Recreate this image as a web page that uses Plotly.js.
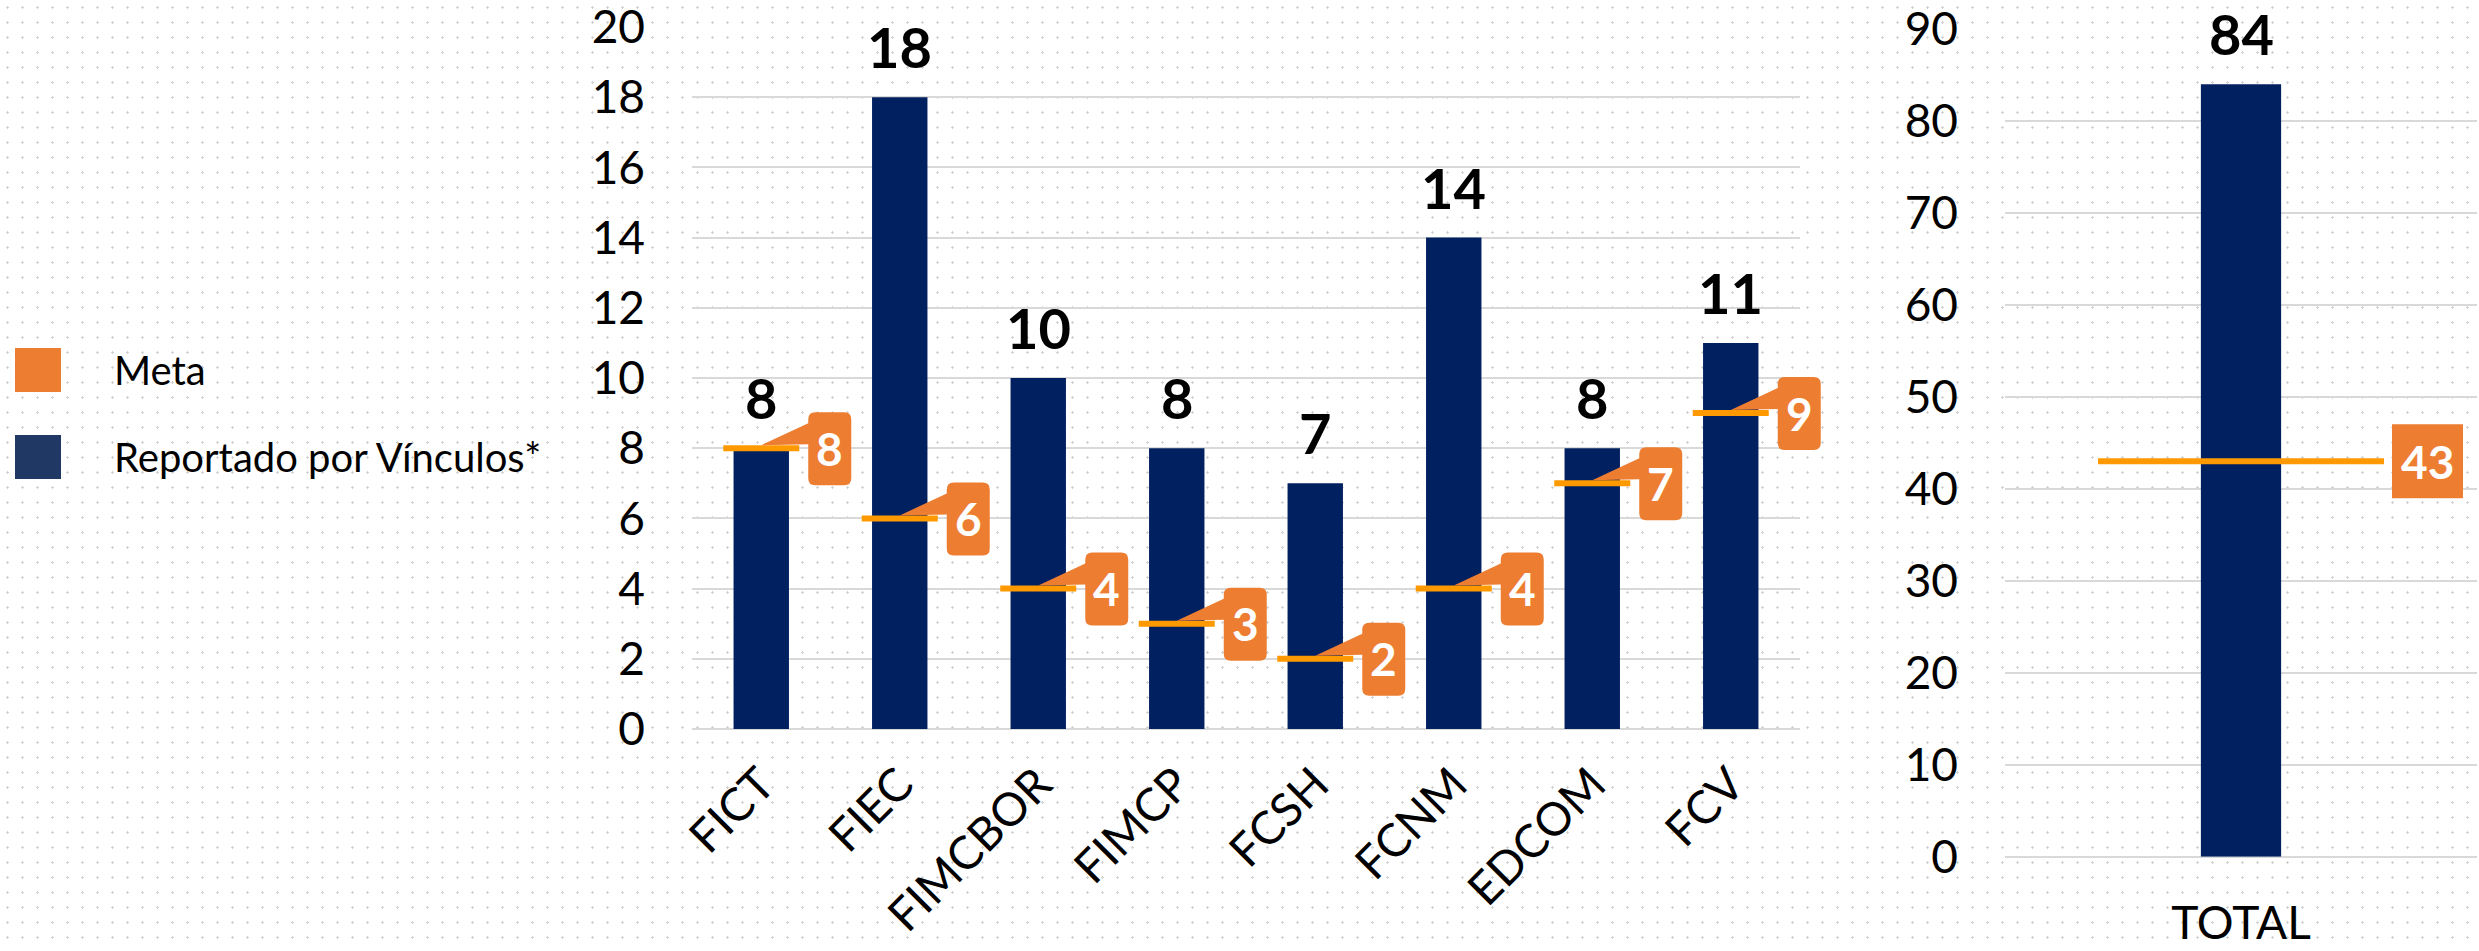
<!DOCTYPE html>
<html>
<head>
<meta charset="utf-8">
<script src="https://cdn.plot.ly/plotly-3.0.1.min.js"></script>
<style>
  html, body { margin: 0; padding: 0; }
  body {
    width: 2479px; height: 951px; overflow: hidden;
    background-color: #ffffff;
    background-image: radial-gradient(circle, #d2d2d2 1px, rgba(255,255,255,0) 1.4px);
    background-size: 15px 15px;
  }
  #chart { width: 2479px; height: 951px; }
</style>
</head>
<body>
<div id="chart"></div>
<script>
// ---------------- data ----------------
const categories = ['FICT', 'FIEC', 'FIMCBOR', 'FIMCP', 'FCSH', 'FCNM', 'EDCOM', 'FCV'];
const reportado = [8, 18, 10, 8, 7, 14, 8, 11];
const meta = [8, 6, 4, 3, 2, 4, 7, 9];
const totalCategories = ['TOTAL'];
const totalReportado = [84];
const totalMeta = [43];
const seriesNames = ['Meta', 'Reportado por Vínculos*'];
const leftTicks = [0, 2, 4, 6, 8, 10, 12, 14, 16, 18, 20];
const rightTicks = [0, 10, 20, 30, 40, 50, 60, 70, 80, 90];

// ---------------- style ----------------
const W = 2479, H = 951;
const px = v => v / W;
const py = v => 1 - v / H;
const FONT = 'Lato, "Open Sans", sans-serif';
const NAVY = '#002060';
const META_LINE = '#FF9900';
const BOX = '#ED7D31';
const GRID = '#D9D9D9';
const LINE_EW = 1.4; // plotly draws line-ew with half-length 0.7*size

// plot geometry (pixels)
const L_X0 = 692, L_X1 = 1800, L_EXTRA = 32;
const catPx = (L_X1 - L_X0) / categories.length;
const R_X0 = 2005, R_X1 = 2477;

const traces = [
  {
    type: 'bar', x: categories, y: reportado, xaxis: 'x', yaxis: 'y',
    width: 0.4, marker: { color: NAVY }, name: seriesNames[1],
    showlegend: false, hoverinfo: 'skip'
  },
  {
    type: 'scatter', mode: 'markers', x: categories, y: meta, xaxis: 'x', yaxis: 'y',
    marker: { symbol: 'line-ew', size: 76 / LINE_EW, line: { width: 6, color: META_LINE } },
    name: seriesNames[0], showlegend: false, hoverinfo: 'skip', cliponaxis: false
  },
  // invisible carrier on a wider overlay subplot, so callouts are not clipped
  {
    type: 'scatter', mode: 'markers', x: categories, y: meta, xaxis: 'x3', yaxis: 'y3',
    marker: { opacity: 0 }, showlegend: false, hoverinfo: 'skip'
  },
  {
    type: 'bar', x: totalCategories, y: totalReportado, xaxis: 'x2', yaxis: 'y2',
    width: 0.17, marker: { color: NAVY }, name: seriesNames[1],
    showlegend: false, hoverinfo: 'skip'
  },
  {
    type: 'scatter', mode: 'markers', x: totalCategories, y: totalMeta, xaxis: 'x2', yaxis: 'y2',
    marker: { opacity: 0 },
    name: seriesNames[0], showlegend: false, hoverinfo: 'skip'
  }
];

const annotations = [];
const shapes = [];

// callout path (pixels relative to the meta point, y up)
const calloutPath = 'M0,3 L47,25 L47,29 Q47,36 54,36 L83,36 Q90,36 90,29 L90,-30 Q90,-37 83,-37 L54,-37 Q47,-37 47,-30 L47,4 Z';

categories.forEach((c, i) => {
  annotations.push({
    x: c, y: reportado[i], xref: 'x', yref: 'y', text: '<b>' + reportado[i] + '</b>',
    showarrow: false, yanchor: 'bottom', xanchor: 'center', yshift: 15,
    font: { family: FONT, size: 56, color: '#000000' }
  });
  shapes.push({
    type: 'path', xref: 'x3', yref: 'y3', xsizemode: 'pixel', ysizemode: 'pixel',
    xanchor: c, yanchor: meta[i], path: calloutPath,
    fillcolor: BOX, line: { width: 0 }, layer: 'above'
  });
  annotations.push({
    x: c, y: meta[i], xref: 'x', yref: 'y', text: '<b>' + meta[i] + '</b>',
    showarrow: false, xanchor: 'center', yanchor: 'middle', xshift: 68.5, yshift: 0,
    font: { family: FONT, size: 46, color: '#ffffff' }
  });
});

totalCategories.forEach((c, i) => {
  annotations.push({
    x: c, y: totalReportado[i], xref: 'x2', yref: 'y2', text: '<b>' + totalReportado[i] + '</b>',
    showarrow: false, yanchor: 'bottom', xanchor: 'center', yshift: 15,
    font: { family: FONT, size: 56, color: '#000000' }
  });
  // meta level line, anchored at the meta value
  shapes.push({
    type: 'line', xref: 'x2', yref: 'y2', xsizemode: 'pixel', ysizemode: 'pixel',
    xanchor: c, yanchor: totalMeta[i], x0: -143, x1: 143, y0: 0, y1: 0,
    line: { width: 6, color: META_LINE }, layer: 'above'
  });
  shapes.push({
    type: 'path', xref: 'x2', yref: 'y2', xsizemode: 'pixel', ysizemode: 'pixel',
    xanchor: c, yanchor: totalMeta[i], path: 'M151,37 L222,37 L222,-37 L151,-37 Z',
    fillcolor: BOX, line: { width: 0 }, layer: 'above'
  });
  annotations.push({
    x: c, y: totalMeta[i], xref: 'x2', yref: 'y2', text: '<b>' + totalMeta[i] + '</b>',
    showarrow: false, xanchor: 'center', yanchor: 'middle', xshift: 186.5,
    font: { family: FONT, size: 46, color: '#ffffff' }
  });
});

// legend (drawn manually to get the large swatches)
const legendColors = ['#ED7D31', '#203864'];
const legendTops = [348, 435];
seriesNames.forEach((n, i) => {
  shapes.push({
    type: 'rect', xref: 'paper', yref: 'paper',
    x0: px(15), x1: px(61), y0: py(legendTops[i] + 44), y1: py(legendTops[i]),
    fillcolor: legendColors[i], line: { width: 0 }
  });
  annotations.push({
    x: px(112), y: py(legendTops[i] + 22), xref: 'paper', yref: 'paper',
    text: n, showarrow: false, xanchor: 'left', yanchor: 'middle',
    font: { family: FONT, size: 40, color: '#000000' }
  });
});

const yCommon = {
  showgrid: true, gridcolor: GRID, gridwidth: 2,
  zeroline: true, zerolinecolor: GRID, zerolinewidth: 2,
  showline: false, ticks: '', fixedrange: true,
  ticklabeloverflow: 'allow',
  tickfont: { family: FONT, size: 46, color: '#000000' }
};

const layout = {
  width: W, height: H,
  margin: { l: 0, r: 0, t: 0, b: 0, pad: 0 },
  paper_bgcolor: 'rgba(0,0,0,0)', plot_bgcolor: 'rgba(0,0,0,0)',
  showlegend: false,
  font: { family: FONT, color: '#000000' },
  xaxis: {
    domain: [px(L_X0), px(L_X1)], anchor: 'y', type: 'category',
    range: [-0.5, categories.length - 0.5], autorange: false,
    tickangle: -45, ticks: '', showline: false, showgrid: false, zeroline: false,
    ticklabelstandoff: 18, ticklabeloverflow: 'allow',
    tickfont: { family: FONT, size: 46, color: '#000000' }
  },
  yaxis: Object.assign({}, yCommon, {
    domain: [py(729), py(27)], anchor: 'x', range: [0, 20], autorange: false,
    tickmode: 'array', tickvals: leftTicks, ticklabelstandoff: 46
  }),
  xaxis3: {
    domain: [px(L_X0), px(L_X1 + L_EXTRA)], anchor: 'y3', type: 'category',
    range: [-0.5, categories.length - 0.5 + L_EXTRA / catPx], autorange: false,
    visible: false, showgrid: false, zeroline: false
  },
  yaxis3: {
    domain: [py(729), py(27)], anchor: 'x3', range: [0, 20], autorange: false,
    visible: false, showgrid: false, zeroline: false
  },
  xaxis2: {
    domain: [px(R_X0), px(R_X1)], anchor: 'y2', type: 'category',
    range: [-0.5, totalCategories.length - 0.5], autorange: false,
    tickangle: 0, ticks: '', showline: false, showgrid: false, zeroline: false,
    ticklabelstandoff: 35, ticklabeloverflow: 'allow',
    tickfont: { family: FONT, size: 46, color: '#000000' }
  },
  yaxis2: Object.assign({}, yCommon, {
    domain: [py(856.7), py(29)], anchor: 'x2', range: [0, 90], autorange: false,
    tickmode: 'array', tickvals: rightTicks, ticklabelstandoff: 46
  }),
  shapes: shapes,
  annotations: annotations
};

Plotly.newPlot('chart', traces, layout, { staticPlot: true, displayModeBar: false });
</script>
</body>
</html>
